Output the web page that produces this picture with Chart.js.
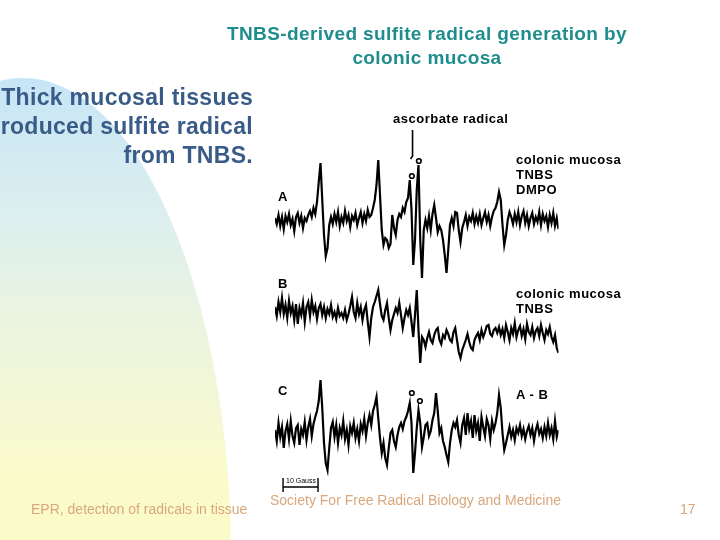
<!DOCTYPE html>
<html>
<head>
<meta charset="utf-8">
<script src="https://cdn.jsdelivr.net/npm/chart.js@4.4.0/dist/chart.umd.min.js"></script>
<style>
  body { margin: 0; background: #fff; }
  #slide { position: relative; width: 720px; height: 540px; overflow: hidden; background: #fff; font-family: "Liberation Sans", Arial, sans-serif; }
  #blob { position: absolute; left: -185px; top: 78px; width: 416px; height: 960px; border-radius: 50%;
          background: linear-gradient(to bottom, #c6e5f6 0%, #dcefef 14%, #eef5dc 28%, #fbfbca 42%, #fdfdc6 100%); }
  canvas { position: absolute; left: 0; top: 0; }
  .t { position: absolute; white-space: nowrap; font-weight: bold; }
  .lbl { position: absolute; white-space: nowrap; font-size: 13px; font-weight: bold; letter-spacing: 0.5px; color: #000; line-height: 15px; }
  .foot { position: absolute; white-space: nowrap; font-size: 14px; color: #d9a77c; }
</style>
</head>
<body>
<div id="slide">
  <div id="blob"></div>
  <canvas id="epr" width="720" height="540"></canvas>

  <div class="t" style="left:170px; width:514px; top:22px; text-align:center; font-size:19px; letter-spacing:0.4px; line-height:24px; color:#1f8d8d;">TNBS-derived sulfite radical generation by<br>colonic mucosa</div>
  <div class="t" style="right:467px; top:83px; text-align:right; font-size:23px; letter-spacing:0.3px; line-height:29px; color:#395b88;">Thick mucosal tissues<br>produced sulfite radical<br>from TNBS.</div>

  <div class="lbl" style="left:393px; top:111px;">ascorbate radical</div>
  <div class="lbl" style="left:278px; top:189px;">A</div>
  <div class="lbl" style="left:278px; top:276px;">B</div>
  <div class="lbl" style="left:278px; top:383px;">C</div>
  <div class="lbl" style="left:516px; top:152px;">colonic mucosa<br>TNBS<br>DMPO</div>
  <div class="lbl" style="left:516px; top:286px;">colonic mucosa<br>TNBS</div>
  <div class="lbl" style="left:516px; top:387px;">A - B</div>
  <div class="lbl" style="left:286px; top:477px; font-size:7px; line-height:8px; font-weight:normal; letter-spacing:0;">10 Gauss</div>

  <div class="foot" style="left:31px; top:501px;">EPR, detection of radicals in tissue</div>
  <div class="foot" style="left:270px; top:492px;">Society For Free Radical Biology and Medicine</div>
  <div class="foot" style="left:680px; top:501px;">17</div>
</div>

<script>
const fieldStep = 0.5;

// spectrum A: colonic mucosa + TNBS + DMPO
const traceA = [
  2, -4, 5, -6, 3, -9, 4, -2, 6, -5, 1, -11, 3, 7, -3, 4, -8, 2, -1, 5,
  9, 3, 12, 6,
  18, 38, 57, 20, -15, -36, -28, -5, 3,
  -4, 6, -2, 8, -6, 3, -3, 9, -1, 5, -7, 4, 0, 7, -5, 2, 8, -3, 6, -1, 10, 3,
  5, 12, 20, 35, 60, 25, -10, -25, -18, -20, -28, -24,
  5, -8, -15, 0, 6, 3, 12, 8, 18, 22,
  40, 10, -45, -20, 30, 55, -20, -58, -10,
  0, -8, 4, -10, 6, 15, 2, -12, -6, -10, -20, -35, -53, -30, -5, 2, -6, 8, 7, -10, -22, -8,
  -2, 5, -6, 3, -1, 7, -4, 4, -3, 6, -5, 2, 8, -2, 5, -6, 3, 9, 12, 18,
  28, 20, -5, -25, -15, 0, 8,
  3, -4, 6, -2, 8, -5, 4, 9, -3, 5, -6, 2, 7, -4, 3, -2, 8, -5, 6, -1, 4, -7, 5, -3, 7, -6, 2, -9
];

// spectrum B: colonic mucosa + TNBS
const traceB = [
  3, -6, 8, -2, 12, -4, 5, -8, 9, -3, 4, -10, 6, -14, 2, -5, 7, -12, 3, 8,
  -6, 10, -2, 4, -9, 2, 6, -5, 3, -8, 1, -4, 5, -7, -2, -9, 2, -6,
  -3, -8, 0, -10, -4, 4,
  13, -2, -8, 7, -4, 3, -10, 0, 5, -12,
  -27, -8, 3, 8, 14, 20, 6, -6, -10, 0,
  7, -8, -20, -10, -4, 2, -3, 7, -5, -18,
  -8, 0, -5, 2, -12, -27, -5, 20, -20, -53,
  -27, -30, -37, -28, -22, -30, -33, -25, -20, -18,
  -30, -34, -25, -28, -20, -24, -30, -32, -22, -18,
  -30, -42, -48, -40, -35, -30, -24, -32, -38, -40,
  -30, -26, -23, -30, -20, -27, -22, -16, -15, -24,
  -26, -20, -18, -23, -17,
  -25, -19, -28, -15, -22, -30, -18, -24, -13, -27, -20, -16, -26, -19, -29, -14, -22,
  -25, -17, -28, -21, -18, -26, -15, -23, -30, -20, -24, -17, -27, -32, -25, -38, -43
];

// spectrum C: difference A - B
const traceC = [
  3, -8, 10, -4, 6, -15, 2, 9, -6, 12, -3, -10, 5, 8, -12, 4, -2, 11, -7, 6, 14, -3, 9, 16,
  22, 32, 53, 25, -10, -30, -37, -15, 5, 11,
  -4, 8, -10, 5, -2, 12, -6, 3, -12, 7, 0, 10, -5, 4, -8, 9, 2, 14, -3, 10, 18, 8,
  22, 28, 36, 15, -5, -20, -10, -25, -32, -15,
  0, 3, -8, -14, -2, 6, 10, 4, 12, 16,
  22, 30, 10, -40, -20, 5, 23, 10, -14, -4,
  8, 10, -3, 2, 13, 20, 40, 22, 0, 5,
  -8, -14, -22, -29, -10, 3, 10, 6, 13, -2,
  -10, 8,
  15, -2, 20, 4, 12, -5, 18, 2, 10, -8, 16, 6, -3, 14, 8, -6, 12, 3, 10,
  20, 38, 25, 0, -17, -10, -2,
  6, -4, 3, -7, 5, 0, 8, -3, 4, -6, 2, 7, -2, 5, -8, 3, 9, -1, 4, -5, 6, -3, 10, -2, 5, -6, 12, -4, 3
];

// ascorbate doublet markers (field in G, height above baseline)
const markFieldA = [39.1, 41.1];
const markHeightA = [44, 59];
const markFieldC = [39.1, 41.4];
const markHeightC = [40, 32];

// scale bar and arrow
const scaleBarStart = 2.3;
const scaleBarLength = 10;
const arrowField = 39.3;

// vertical stacking of the three spectra
const baseA = 280, baseB = 190, baseC = 67;

function toPoints(vals, base) {
    return vals.map((v, i) => ({ x: i * fieldStep, y: base + v }));
}
function toMarks(fields, heights, base) {
    return fields.map((f, i) => ({ x: f, y: base + heights[i] }));
}

const traceStyle = { borderColor: '#000', borderWidth: 2.2, pointRadius: 0, tension: 0, fill: false };
const markStyle = { showLine: false, pointRadius: 2.3, pointBorderWidth: 1.6, pointBorderColor: '#000', pointBackgroundColor: '#fff' };

const extras = {
    id: 'extras',
    afterDatasetsDraw(chart) {
        const ctx = chart.ctx;
        const xs = chart.scales.x, ys = chart.scales.y;
        ctx.save();
        ctx.strokeStyle = '#000';
        ctx.lineWidth = 1.6;
        // arrow to the ascorbate radical lines
        const ax = xs.getPixelForValue(arrowField);
        ctx.beginPath();
        ctx.moveTo(ax, ys.getPixelForValue(370));
        ctx.lineTo(ax, ys.getPixelForValue(344));
        ctx.lineTo(ax - 2, ys.getPixelForValue(341));
        ctx.stroke();
        // 10 gauss scale bar
        const x0 = xs.getPixelForValue(scaleBarStart);
        const x1 = xs.getPixelForValue(scaleBarStart + scaleBarLength);
        ctx.lineWidth = 1.4;
        ctx.beginPath();
        ctx.moveTo(x0, ys.getPixelForValue(13));
        ctx.lineTo(x1, ys.getPixelForValue(13));
        ctx.moveTo(x0, ys.getPixelForValue(22));
        ctx.lineTo(x0, ys.getPixelForValue(8));
        ctx.moveTo(x1, ys.getPixelForValue(22));
        ctx.lineTo(x1, ys.getPixelForValue(8));
        ctx.stroke();
        ctx.restore();
    }
};

new Chart(document.getElementById('epr'), {
    type: 'line',
    data: {
        datasets: [
            { label: 'A', data: toPoints(traceA, baseA), ...traceStyle },
            { label: 'B', data: toPoints(traceB, baseB), ...traceStyle },
            { label: 'C', data: toPoints(traceC, baseC), ...traceStyle },
            { label: 'ascorbate A', data: toMarks(markFieldA, markHeightA, baseA), ...markStyle },
            { label: 'ascorbate C', data: toMarks(markFieldC, markHeightC, baseC), ...markStyle }
        ]
    },
    options: {
        responsive: false,
        animation: false,
        layout: { padding: { left: 275, right: 161.5, top: 100, bottom: 40 } },
        plugins: { legend: { display: false }, tooltip: { enabled: false } },
        scales: {
            x: { type: 'linear', min: 0, max: 81, display: false },
            y: { type: 'linear', min: 0, max: 400, display: false }
        }
    },
    plugins: [extras]
});
</script>
</body>
</html>
